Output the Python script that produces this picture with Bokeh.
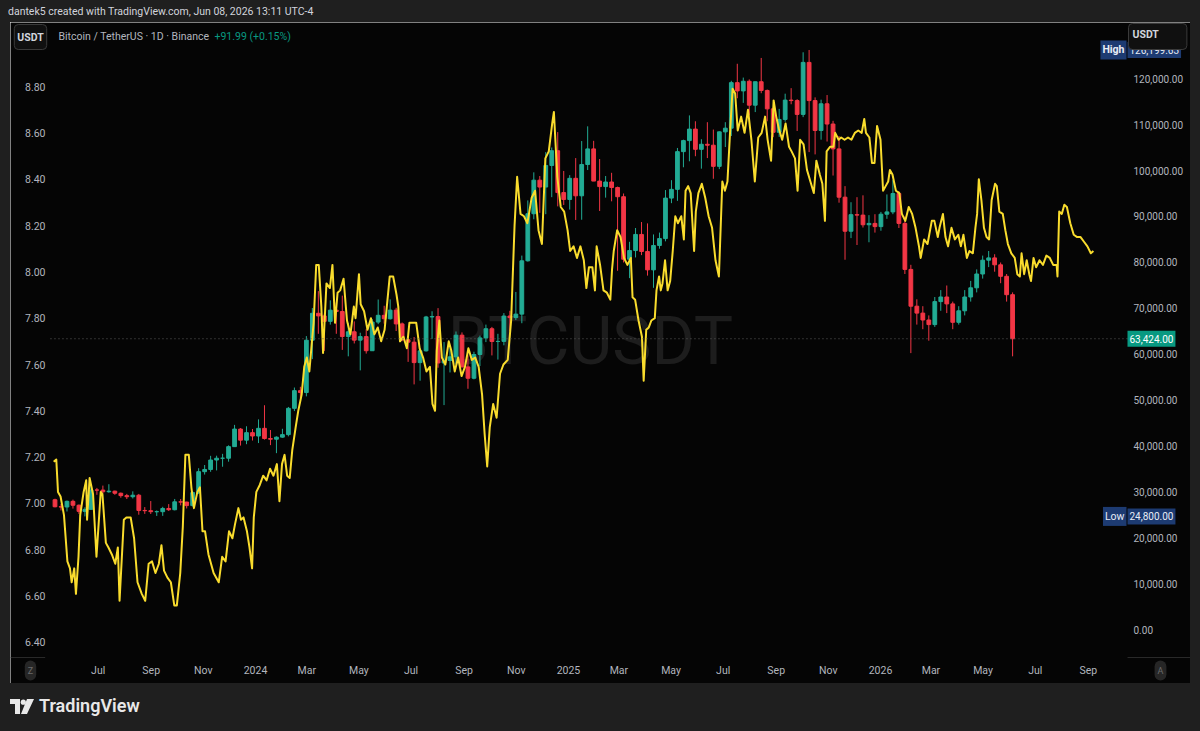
import pandas as pd
from bokeh.plotting import figure
from bokeh.models import (Range1d, LinearAxis, FixedTicker, NumeralTickFormatter,
                          Label, Div, ColumnDataSource)
from bokeh.layouts import column, row
from bokeh.embed import file_html
from bokeh.resources import INLINE
from bokeh.core.properties import value

# ---------------- DATA ----------------
# BTC/USDT weekly candles (week starting Mondays from btc_first_week)
btc_first_week = "2023-05-08"
btc_first_open = 28430
btc_close = [
    26900, 26850, 28080, 27230, 25900, 26340, 30540, 30520,
    30160, 30290, 29840, 29320, 29080,
    29410, 26100, 26040, 25830,
    25830, 26530, 26250, 27970,
    27920, 27150, 29990, 34530, 35010,
    37060, 37450, 37450, 39970,
    43790, 41380, 43010, 42280,
    43950, 41730, 41580, 42030, 42580,
    48300, 52140, 51730, 63110,
    68960, 68390, 67210, 69640,
    69350, 63900, 64940, 63120, 63890,
    60820, 67050, 68520, 67770,
    69650, 66650, 63200, 62680,
    58240, 60800, 68160, 68250, 58160,
    58700, 59490, 64200, 57300,
    54840, 60000, 63600, 65600, 62820,
    62850, 68360, 68020, 68780,
    80370, 90600, 97900, 96400,
    101100, 104300, 95200, 93700, 98300,
    94500, 101300, 104700, 97700,
    96500, 97500, 96300, 94300,
    80700, 82600, 86100, 82400, 78400,
    83700, 85200, 94000, 95900,
    104100, 106500, 109000, 104600,
    105700, 105500, 100900, 108400, 109200,
    119100, 117300, 119400, 114200,
    119300, 117400, 113400, 108300,
    111100, 115300, 115200, 112200, 123500,
    115200, 108700, 114500, 110100,
    104700, 94200, 86800, 90400,
    90300, 88200, 88500, 87800, 90500,
    91000, 95000, 88500, 78500,
    70500, 69000, 67500, 66500,
    71500, 72500, 71000, 67000, 69500,
    72500, 74500, 77500, 80500,
    81000, 79500, 77000, 73000,
    63424,
]
btc_high = [
    28650, 27500, 28260, 28450, 27400, 26800, 31430, 31000,
    31500, 31800, 30400, 29990, 29700,
    30250, 29690, 26830, 28140,
    26100, 26890, 27480, 28600,
    28580, 27990, 30300, 35280, 35980,
    37970, 38000, 38400, 40250,
    44700, 44000, 44400, 43800,
    45900, 48970, 43580, 42200, 43850,
    48600, 52820, 52980, 64000,
    70100, 73780, 68920, 71770,
    71300, 72800, 66870, 67200, 64730,
    65500, 67700, 71950, 70600,
    71980, 70150, 66950, 63400,
    63800, 61400, 68400, 69400, 70080,
    62700, 61850, 65000, 64800,
    59800, 60600, 64100, 66500, 66000,
    64500, 69000, 69500, 73600,
    81500, 93500, 99600, 98800,
    104000, 105000, 108350, 99900, 99000,
    102700, 106400, 109600, 106450,
    102500, 98800, 99500, 96500,
    95000, 84500, 87500, 88800, 88500,
    86100, 86500, 95750, 97900,
    104900, 106700, 111980, 110700,
    106800, 110500, 108900, 108500, 110500,
    119500, 123200, 120200, 119800,
    119300, 124470, 117600, 113700,
    113400, 116700, 117900, 115500, 125700,
    126199.63, 115900, 115400, 116400,
    110800, 107500, 96600, 93100,
    94200, 94600, 90300, 90500, 91000,
    94800, 97900, 95500, 90000,
    79500, 72000, 70500, 68500,
    72500, 74000, 75000, 71500, 70500,
    74000, 76000, 78500, 81500,
    82500, 81800, 80000, 77500,
    73500,
]
btc_low = [
    26780, 26100, 25870, 26500, 25350, 24800, 26240, 29500,
    29700, 29950, 29500, 28860, 28580,
    28700, 25170, 25350, 25330,
    24900, 24920, 26000, 26120,
    27200, 26530, 26960, 29660, 33900,
    34500, 34800, 35600, 36700,
    39900, 40200, 40500, 41300,
    40750, 41500, 40300, 38550, 41900,
    42200, 47700, 50520, 50900,
    59000, 64500, 60770, 66500,
    64500, 61000, 59600, 62400, 56550,
    60200, 60800, 66600, 66700,
    67600, 65100, 62900, 58400,
    53500, 54300, 60630, 63400, 57120,
    49000, 56100, 57800, 57200,
    52550, 54600, 57500, 62700, 59800,
    58900, 62000, 65100, 67500,
    66800, 80200, 89400, 90800,
    90500, 94200, 92200, 92500, 91500,
    89250, 89300, 100100, 97700,
    91200, 94100, 93300, 78200,
    80000, 76600, 81100, 81600, 77150,
    74500, 83000, 84600, 92900,
    93400, 100700, 102000, 103100,
    100400, 102700, 98200, 100300, 105100,
    107500, 115700, 114700, 112000,
    112700, 116800, 110700, 107250,
    107300, 110600, 114400, 108600, 111600,
    104000, 103500, 106700, 106300,
    98900, 93000, 80600, 85300,
    83800, 87600, 84400, 86500, 86900,
    89500, 90500, 87500, 77500,
    60300, 66500, 65500, 63000,
    66000, 69500, 69000, 65500, 66500,
    68500, 71500, 73500, 76500,
    79000, 78000, 75500, 71500,
    59600,
]

# Yellow indicator (left scale)
yel_dates = [
    "2023-05-10", "2023-05-13", "2023-05-15", "2023-05-18", "2023-05-22", "2023-05-26", "2023-05-29", "2023-05-31",
    "2023-06-03", "2023-06-05", "2023-06-08", "2023-06-10", "2023-06-14", "2023-06-17", "2023-06-18", "2023-06-21",
    "2023-06-25", "2023-06-29", "2023-07-04", "2023-07-06", "2023-07-10", "2023-07-13", "2023-07-17", "2023-07-21",
    "2023-07-24", "2023-07-26", "2023-07-31", "2023-08-03", "2023-08-08", "2023-08-12", "2023-08-16", "2023-08-21",
    "2023-08-25", "2023-08-29", "2023-09-02", "2023-09-06", "2023-09-10", "2023-09-13", "2023-09-16", "2023-09-20",
    "2023-09-24", "2023-09-28", "2023-10-01", "2023-10-05", "2023-10-08", "2023-10-11", "2023-10-15", "2023-10-18",
    "2023-10-21", "2023-10-25", "2023-10-28", "2023-10-31", "2023-11-03", "2023-11-07", "2023-11-13", "2023-11-19",
    "2023-11-23", "2023-11-27", "2023-12-01", "2023-12-05", "2023-12-08", "2023-12-12", "2023-12-15", "2023-12-18",
    "2023-12-22", "2023-12-25", "2023-12-28", "2023-12-30", "2024-01-02", "2024-01-06", "2024-01-10", "2024-01-14",
    "2024-01-18", "2024-01-22", "2024-01-26", "2024-01-29", "2024-02-01", "2024-02-04", "2024-02-07", "2024-02-10",
    "2024-02-13", "2024-02-17", "2024-02-20", "2024-02-24", "2024-02-27", "2024-03-01", "2024-03-04", "2024-03-07",
    "2024-03-09", "2024-03-12", "2024-03-15", "2024-03-18", "2024-03-20", "2024-03-24", "2024-03-28", "2024-03-31",
    "2024-04-03", "2024-04-06", "2024-04-09", "2024-04-13", "2024-04-17", "2024-04-21", "2024-04-25", "2024-04-27",
    "2024-05-01", "2024-05-03", "2024-05-07", "2024-05-11", "2024-05-15", "2024-05-19", "2024-05-23", "2024-05-27",
    "2024-05-31", "2024-06-06", "2024-06-10", "2024-06-14", "2024-06-16", "2024-06-18", "2024-06-22", "2024-06-26",
    "2024-06-29", "2024-07-03", "2024-07-07", "2024-07-11", "2024-07-15", "2024-07-19", "2024-07-23", "2024-07-26",
    "2024-07-29", "2024-07-31", "2024-08-03", "2024-08-06", "2024-08-10", "2024-08-14", "2024-08-17", "2024-08-21",
    "2024-08-25", "2024-08-29", "2024-09-02", "2024-09-06", "2024-09-10", "2024-09-14", "2024-09-18", "2024-09-22",
    "2024-09-25", "2024-09-28", "2024-10-01", "2024-10-05", "2024-10-09", "2024-10-13", "2024-10-17", "2024-10-22",
    "2024-10-26", "2024-10-30", "2024-11-02", "2024-11-06", "2024-11-10", "2024-11-14", "2024-11-19", "2024-11-23",
    "2024-11-27", "2024-12-01", "2024-12-05", "2024-12-09", "2024-12-13", "2024-12-15", "2024-12-19", "2024-12-23",
    "2024-12-27", "2024-12-31", "2025-01-03", "2025-01-07", "2025-01-11", "2025-01-15", "2025-01-19", "2025-01-22",
    "2025-01-25", "2025-01-29", "2025-02-01", "2025-02-03", "2025-02-07", "2025-02-11", "2025-02-15", "2025-02-19",
    "2025-02-21", "2025-02-23", "2025-02-27", "2025-03-03", "2025-03-07", "2025-03-11", "2025-03-15", "2025-03-17",
    "2025-03-20", "2025-03-24", "2025-03-28", "2025-03-30", "2025-04-02", "2025-04-05", "2025-04-08", "2025-04-12",
    "2025-04-14", "2025-04-17", "2025-04-19", "2025-04-21", "2025-04-24", "2025-04-27", "2025-04-30", "2025-05-03",
    "2025-05-06", "2025-05-09", "2025-05-13", "2025-05-16", "2025-05-18", "2025-05-21", "2025-05-24", "2025-05-28",
    "2025-05-30", "2025-06-02", "2025-06-06", "2025-06-10", "2025-06-14", "2025-06-18", "2025-06-22", "2025-06-26",
    "2025-06-30", "2025-07-03", "2025-07-06", "2025-07-09", "2025-07-12", "2025-07-15", "2025-07-18", "2025-07-22",
    "2025-07-26", "2025-07-30", "2025-08-03", "2025-08-07", "2025-08-11", "2025-08-15", "2025-08-19", "2025-08-22",
    "2025-08-26", "2025-08-29", "2025-09-01", "2025-09-04", "2025-09-08", "2025-09-12", "2025-09-16", "2025-09-19",
    "2025-09-23", "2025-09-26", "2025-09-29", "2025-10-03", "2025-10-07", "2025-10-11", "2025-10-15", "2025-10-18",
    "2025-10-22", "2025-10-25", "2025-10-28", "2025-10-30", "2025-11-03", "2025-11-07", "2025-11-09", "2025-11-13",
    "2025-11-16", "2025-11-20", "2025-11-24", "2025-11-28", "2025-12-02", "2025-12-06", "2025-12-10", "2025-12-13",
    "2025-12-15", "2025-12-19", "2025-12-22", "2025-12-25", "2025-12-28", "2026-01-01", "2026-01-04", "2026-01-07",
    "2026-01-10", "2026-01-12", "2026-01-15", "2026-01-19", "2026-01-23", "2026-01-26", "2026-01-30", "2026-02-03",
    "2026-02-07", "2026-02-11", "2026-02-15", "2026-02-17", "2026-02-21", "2026-02-25", "2026-03-02", "2026-03-05",
    "2026-03-09", "2026-03-11", "2026-03-15", "2026-03-18", "2026-03-21", "2026-03-25", "2026-03-29", "2026-04-02",
    "2026-04-05", "2026-04-08", "2026-04-12", "2026-04-15", "2026-04-19", "2026-04-22", "2026-04-24", "2026-04-26",
    "2026-04-29", "2026-05-02", "2026-05-05", "2026-05-08", "2026-05-11", "2026-05-15", "2026-05-17", "2026-05-20",
    "2026-05-24", "2026-05-27", "2026-05-30", "2026-06-03", "2026-06-07", "2026-06-10", "2026-06-13", "2026-06-15",
    "2026-06-18", "2026-06-21", "2026-06-24", "2026-06-26", "2026-06-29", "2026-07-02", "2026-07-06", "2026-07-10",
    "2026-07-14", "2026-07-18", "2026-07-22", "2026-07-26", "2026-07-27", "2026-07-29", "2026-08-01", "2026-08-04",
    "2026-08-07", "2026-08-11", "2026-08-15", "2026-08-19", "2026-08-23", "2026-08-27", "2026-08-31", "2026-09-04",
    "2026-09-07",
]
yel_vals = [
    7.18, 7.19, 7.05, 7.03, 6.95, 6.75, 6.72, 6.66,
    6.72, 6.61, 6.77, 6.95, 7.05, 7.10, 6.93, 7.11,
    7.04, 6.77, 7.05, 7.04, 6.83, 6.81, 6.78, 6.74,
    6.81, 6.58, 6.93, 6.94, 6.94, 6.85, 6.66, 6.61,
    6.58, 6.74, 6.75, 6.70, 6.74, 6.82, 6.71, 6.68,
    6.66, 6.56, 6.56, 6.70, 6.90, 7.21, 7.21, 7.07,
    6.98, 7.05, 7.07, 6.88, 6.88, 6.78, 6.70, 6.66,
    6.77, 6.75, 6.88, 6.85, 6.91, 6.98, 6.93, 6.94,
    6.88, 6.81, 6.72, 6.94, 7.05, 7.08, 7.12, 7.10,
    7.15, 7.12, 7.17, 7.01, 7.17, 7.21, 7.12, 7.11,
    7.23, 7.33, 7.40, 7.47, 7.59, 7.63, 7.57, 7.70,
    7.78, 8.03, 8.03, 7.85, 7.65, 7.95, 7.93, 8.03,
    7.78, 7.91, 7.92, 7.97, 7.79, 7.73, 7.85, 7.80,
    7.99, 7.86, 7.83, 7.75, 7.80, 7.73, 7.76, 7.70,
    7.75, 7.98, 7.98, 7.90, 7.85, 7.70, 7.72, 7.67,
    7.78, 7.78, 7.78, 7.67, 7.63, 7.57, 7.59, 7.43,
    7.40, 7.66, 7.79, 7.63, 7.60, 7.70, 7.66, 7.57,
    7.63, 7.55, 7.59, 7.67, 7.62, 7.63, 7.59, 7.47,
    7.30, 7.16, 7.33, 7.43, 7.37, 7.56, 7.60, 7.62,
    7.79, 8.20, 8.41, 8.25, 8.24, 8.21, 8.32, 8.35,
    8.18, 8.12, 8.49, 8.52, 8.64, 8.69, 8.41, 8.28,
    8.26, 8.18, 8.09, 8.11, 8.06, 8.11, 8.05, 7.93,
    8.02, 8.02, 7.92, 8.11, 8.03, 7.92, 7.91, 7.88,
    8.01, 8.09, 8.18, 8.15, 8.06, 8.03, 8.06, 7.89,
    7.88, 7.79, 7.72, 7.53, 7.75, 7.76, 7.79, 7.80,
    7.92, 7.98, 7.92, 7.95, 8.05, 7.92, 7.96, 8.09,
    8.24, 8.21, 8.24, 8.14, 8.35, 8.37, 8.34, 8.09,
    8.26, 8.34, 8.38, 8.32, 8.24, 8.19, 8.05, 7.98,
    8.39, 8.35, 8.39, 8.60, 8.79, 8.77, 8.61, 8.67,
    8.60, 8.70, 8.57, 8.39, 8.58, 8.60, 8.67, 8.57,
    8.48, 8.74, 8.67, 8.62, 8.57, 8.64, 8.54, 8.52,
    8.49, 8.35, 8.57, 8.55, 8.44, 8.39, 8.34, 8.48,
    8.42, 8.38, 8.22, 8.52, 8.54, 8.54, 8.60, 8.57,
    8.58, 8.57, 8.58, 8.57, 8.60, 8.61, 8.60, 8.66,
    8.60, 8.58, 8.47, 8.47, 8.63, 8.57, 8.35, 8.37,
    8.39, 8.44, 8.42, 8.35, 8.34, 8.25, 8.22, 8.28,
    8.25, 8.19, 8.11, 8.06, 8.14, 8.12, 8.22, 8.22,
    8.15, 8.19, 8.25, 8.15, 8.11, 8.19, 8.14, 8.16,
    8.11, 8.16, 8.06, 8.09, 8.08, 8.19, 8.25, 8.40,
    8.31, 8.19, 8.15, 8.14, 8.31, 8.38, 8.37, 8.26,
    8.25, 8.18, 8.12, 8.08, 8.06, 7.99, 7.98, 8.08,
    7.99, 8.05, 7.99, 7.96, 8.06, 8.02, 8.05, 8.03,
    8.07, 8.06, 8.03, 8.03, 7.98, 8.26, 8.25, 8.29,
    8.28, 8.21, 8.16, 8.15, 8.15, 8.13, 8.11, 8.08,
    8.09,
]

left_ticks = [6.4, 6.6, 6.8, 7.0, 7.2, 7.4, 7.6, 7.8, 8.0, 8.2, 8.4, 8.6, 8.8]
right_ticks = [0, 10000, 20000, 30000, 40000, 50000, 60000, 70000, 80000,
               90000, 100000, 110000, 120000]
x_tick_dates = ["2023-07-01", "2023-09-01", "2023-11-01", "2024-01-01", "2024-03-01",
                "2024-05-01", "2024-07-01", "2024-09-01", "2024-11-01", "2025-01-01",
                "2025-03-01", "2025-05-01", "2025-07-01", "2025-09-01", "2025-11-01",
                "2026-01-01", "2026-03-01", "2026-05-01", "2026-07-01", "2026-09-01"]
x_tick_labels = ["Jul", "Sep", "Nov", "2024", "Mar", "May", "Jul", "Sep", "Nov", "2025",
                 "Mar", "May", "Jul", "Sep", "Nov", "2026", "Mar", "May", "Jul", "Sep"]

last_price = 63424
high_price = 126199.63
low_price = 24800

# ---------------- BUILD ----------------
DAY = 86_400_000


def to_ms(dates):
    return [int(v) for v in pd.to_datetime(dates).values.astype("datetime64[ms]").astype("int64")]


base = to_ms(["2024-01-01"])[0]
weeks = pd.date_range(btc_first_week, periods=len(btc_close), freq="7D")
week_ms = [int(v) for v in weeks.values.astype("datetime64[ms]").astype("int64")]
btc_open = [btc_first_open] + btc_close[:-1]
colors = ["#22ab94" if c >= o else "#f23645" for o, c in zip(btc_open, btc_close)]
src = ColumnDataSource(dict(
    x=[w + 3.5 * DAY for w in week_ms],
    top=[max(o, c) for o, c in zip(btc_open, btc_close)],
    bottom=[min(o, c) for o, c in zip(btc_open, btc_close)],
    high=btc_high, low=btc_low, color=colors,
))

BG = "#050505"
GRAY = "#1f1f1f"
AX = "#b2b5be"
FONT = "Roboto"

# pane edges (scale columns sit inside the black panel)
pane_left = base - 239.8 * DAY
pane_right = base + 1019.9 * DAY
pane_bottom = 6.3353

p = figure(width=1180, height=661, output_backend="svg", toolbar_location=None,
           x_range=Range1d(base - 286.55 * DAY, base + 1093.57 * DAY),
           y_range=Range1d(6.2230, 9.0763),
           min_border_left=0, min_border_right=0, min_border_top=0, min_border_bottom=0,
           background_fill_color=BG, border_fill_color=BG, outline_line_color=None,
           margin=0)
p.extra_y_ranges = {"btc": Range1d(-11522, 132174)}
p.grid.visible = False

xt = to_ms(x_tick_dates)
p.xaxis.ticker = FixedTicker(ticks=xt)
p.xaxis.major_label_overrides = {t: l for t, l in zip(xt, x_tick_labels)}
p.xaxis.fixed_location = pane_bottom
p.yaxis.ticker = FixedTicker(ticks=left_ticks)
p.yaxis.formatter = NumeralTickFormatter(format="0.00")
p.yaxis.fixed_location = pane_left
right_axis = LinearAxis(y_range_name="btc", ticker=FixedTicker(ticks=right_ticks),
                        formatter=NumeralTickFormatter(format="0,0.00"),
                        fixed_location=pane_right)
p.add_layout(right_axis, "right")

for ax, standoff, fs in ((p.xaxis[0], 7, "10.5px"), (p.yaxis[0], 5, "10.5px"),
                         (right_axis, 6, "10px")):
    ax.axis_line_color = None
    ax.major_tick_line_color = None
    ax.minor_tick_line_color = None
    ax.major_tick_out = 0
    ax.major_tick_in = 0
    ax.minor_tick_out = 0
    ax.minor_tick_in = 0
    ax.major_label_text_color = AX
    ax.major_label_text_font = FONT
    ax.major_label_text_font_size = fs
    ax.major_label_standoff = standoff

# watermark
p.text(x=[base + 391.8 * DAY], y=[7.70], text=["BTCUSDT"], text_font=value(FONT),
       text_font_size="66px", text_color="#1d1d1d", text_align="center",
       text_baseline="middle")

# scale separators at the bottom of the price scales
p.segment(x0=[base - 286.55 * DAY, pane_right], x1=[base - 246 * DAY, base + 1093.57 * DAY],
          y0=[pane_bottom, pane_bottom], y1=[pane_bottom, pane_bottom],
          line_color="#2a2a2a", line_width=1)

# candles
p.segment(x0="x", y0="low", x1="x", y1="high", line_color="color", line_width=1,
          source=src, y_range_name="btc")
p.vbar(x="x", width=4.4 * DAY, top="top", bottom="bottom", fill_color="color",
       line_color="color", line_width=1, source=src, y_range_name="btc")

# yellow line
p.line(x=to_ms(yel_dates), y=yel_vals, line_color="#f9dc2d", line_width=2, line_join="round")

# last price dotted line (across the pane only)
p.segment(x0=[pane_left], x1=[pane_right], y0=[last_price], y1=[last_price],
          line_color="#5c5c5c", line_dash="1 3", line_width=1, y_range_name="btc")


def lab(text, x, y, y_units="screen", y_range_name="default", align="left", color="#ffffff",
        bg=None, border=None, pad=0, size="10.5px", style="normal", radius=0):
    kw = dict(x=x, y=y, x_units="screen", y_units=y_units, text=text, text_align=align,
              text_baseline="middle", text_color=color, text_font=FONT,
              text_font_size=size, text_font_style=style, padding=pad,
              border_radius=radius)
    if y_units == "data":
        kw["y_range_name"] = y_range_name
    if bg:
        kw["background_fill_color"] = bg
    if border:
        kw["border_line_color"] = border
    p.add_layout(Label(**kw))


NAVY = "#1d3b72"
# legend (top-left)
lab("USDT", 20, 646.5, align="center", color="#d1d4dc", bg="#101010", border="#3a3a3a",
    pad=(3, 6), style="bold", radius=4)
lab("Bitcoin / TetherUS · 1D · Binance", 48, 647, color=AX, size="10.5px")
lab("+91.99 (+0.15%)", 204, 647, color="#089981", size="10.5px")
# high / low / last badges
lab("High", 1116, high_price, y_units="data", y_range_name="btc", align="right",
    color="#e8ecf5", bg=NAVY, pad=(2, 3), style="bold")
lab("126,199.63", 1117, high_price, y_units="data", y_range_name="btc",
    color="#e8ecf5", bg=NAVY, pad=(2, 4), size="10px")
lab("USDT", 1118, 647, color="#d1d4dc", bg="#101010", border="#3a3a3a",
    pad=(4, 28, 4, 9), style="bold", radius=4)
lab("63,424.00", 1117, last_price, y_units="data", y_range_name="btc",
    color="#ffffff", bg="#089981", pad=(2, 4), size="10px")
lab("Low", 1116, low_price, y_units="data", y_range_name="btc", align="right",
    color="#e8ecf5", bg=NAVY, pad=(2, 3))
lab("24,800.00", 1117, low_price, y_units="data", y_range_name="btc",
    color="#e8ecf5", bg=NAVY, pad=(2, 4), size="10px")
# scale buttons
lab("Z", 20, 13, align="center", color="#6a6a6a", bg="#262626", pad=(3, 5), size="9px",
    radius=9)
lab("A", 1150, 13, align="center", color="#6a6a6a", bg="#262626", pad=(3, 5), size="9px",
    radius=9)

header = Div(text='<span style="margin-left:8px">dantek5 created with TradingView.com, '
                  'Jun 08, 2026 13:11 UTC-4</span>',
             width=1200, height=22, margin=0,
             styles={"background-color": GRAY, "color": "#d1d4dc",
                     "font-family": FONT, "font-size": "10.5px", "line-height": "23px"})
side_l = Div(text="", width=10, height=661, margin=0, styles={"background-color": GRAY})
side_r = Div(text="", width=10, height=661, margin=0, styles={"background-color": GRAY})
logo_svg = ('<svg width="24" height="15" viewBox="0 0 24 15">'
            '<path d="M0 0h10v15H5V5H0z" fill="#e8e8e8"/>'
            '<circle cx="13.3" cy="3.2" r="2.6" fill="#e8e8e8"/>'
            '<path d="M17 0h7l-7 15h-6z" fill="#e8e8e8"/></svg>')
footer = Div(text='<div style="display:flex;align-items:center;height:46px;padding-left:10px">'
                  + logo_svg +
                  '<span style="margin-left:5px;font-family:Roboto;font-weight:600;'
                  'font-size:18px;color:#e8e8e8">TradingView</span></div>',
             width=1200, height=48, margin=0,
             styles={"background-color": GRAY})

layout = column(header, row(side_l, p, side_r, spacing=0), footer, spacing=0)
open("out.html", "w").write(file_html(layout, INLINE))
